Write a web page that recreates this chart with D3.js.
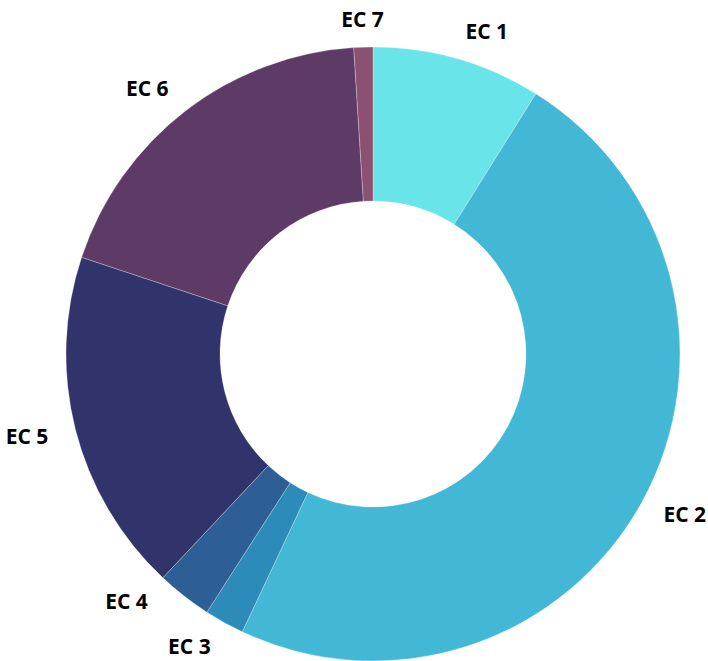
<!DOCTYPE html>
<html>
<head>
<meta charset="utf-8">
<script src="https://cdn.jsdelivr.net/npm/d3@7"></script>
<style>
  html, body { margin: 0; padding: 0; background: #ffffff; }
  svg { display: block; }
</style>
</head>
<body>
<svg id="chart" width="708" height="661"></svg>
<script>
const categories = ["EC 1", "EC 2", "EC 3", "EC 4", "EC 5", "EC 6", "EC 7"];
const values = [8.9, 48.1, 2.1, 2.9, 18.1, 18.9, 1.0];
const colors = ["#69E4E8", "#42B8D6", "#2C8BB9", "#2E5E96", "#31346B", "#5E3A66", "#8C5073"];

const width = 708, height = 661;
const cx = 373, cy = 354;
const outerR = 307, innerR = 153, labelR = 335;
const labelGap = 45;
const edgeMargin = 2;

const svg = d3.select("#chart");
const g = svg.append("g").attr("transform", `translate(${cx},${cy})`);

const data = categories.map((c, i) => ({ name: c, value: values[i], color: colors[i] }));

const pie = d3.pie().sort(null).value(d => d.value);
const arcs = pie(data);

const arc = d3.arc().innerRadius(innerR).outerRadius(outerR);

g.selectAll("path.slice")
  .data(arcs)
  .enter().append("path")
  .attr("class", "slice")
  .attr("d", arc)
  .attr("fill", d => d.data.color)
  .attr("stroke", "rgba(255,255,255,0.45)")
  .attr("stroke-width", 0.6);

// label layout: point on a circle at the mid-angle, then spread vertically per side
const labels = arcs.map(a => {
  const ang = (a.startAngle + a.endAngle) / 2;
  const s = Math.sin(ang);
  return {
    name: a.data.name,
    side: s >= 0 ? 1 : -1,
    top: Math.abs(s) < 0.15,
    x: labelR * s,
    y: -labelR * Math.cos(ang)
  };
});

[1, -1].forEach(side => {
  const group = labels.filter(l => l.side === side && !l.top).sort((a, b) => b.y - a.y);
  for (let i = 1; i < group.length; i++) {
    const prev = group[i - 1], cur = group[i];
    if (prev.y > 0 && cur.y > prev.y - labelGap) {
      cur.y = prev.y - labelGap;
      cur.x = side * Math.sqrt(Math.max(0, labelR * labelR - cur.y * cur.y));
    }
  }
});

const texts = g.selectAll("text.label")
  .data(labels)
  .enter().append("text")
  .attr("class", "label")
  .attr("x", d => d.x)
  .attr("y", d => d.y)
  .attr("dy", "0.35em")
  .attr("text-anchor", d => d.top ? "middle" : (d.side > 0 ? "start" : "end"))
  .style("font-family", "'Open Sans', sans-serif")
  .style("font-weight", 700)
  .style("font-size", "21px")
  .style("fill", "#000")
  .text(d => d.name);

// keep labels inside the drawing area
texts.each(function(d) {
  const w = this.getComputedTextLength();
  if (d.side > 0 && !d.top) {
    const maxX = width - cx - edgeMargin - w;
    if (d.x > maxX) d3.select(this).attr("x", maxX);
  } else if (d.side < 0 && !d.top) {
    const minX = -cx + edgeMargin + w;
    if (d.x < minX) d3.select(this).attr("x", minX);
  }
});
</script>
</body>
</html>
